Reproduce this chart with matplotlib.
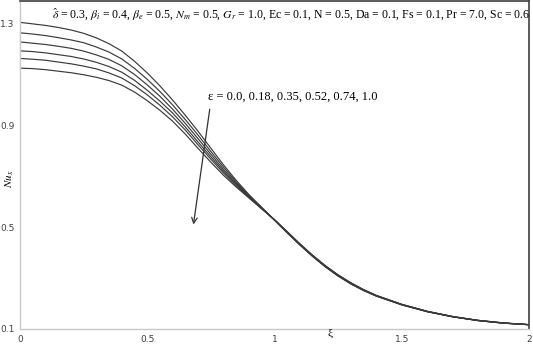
import numpy as np
import matplotlib
matplotlib.use("Agg")
import matplotlib.pyplot as plt

plt.rcParams['font.family'] = ['Liberation Serif', 'DejaVu Serif']
plt.rcParams['mathtext.fontset'] = 'stix'

# axial coordinate (finer steps where the curves bend)
xi = [0.0, 0.05, 0.1, 0.15, 0.2, 0.25, 0.3, 0.35, 0.4, 0.45, 0.5, 0.55, 0.6,
      0.65, 0.7, 0.75, 0.8, 0.85, 0.9, 0.95, 1.0, 1.05, 1.1, 1.15, 1.2, 1.25,
      1.3, 1.35, 1.4, 1.5, 1.6, 1.7, 1.8, 1.9, 2.0]

# local Nusselt number for each epsilon
nu_eps_000 = [1.306, 1.300, 1.294, 1.286, 1.276, 1.263, 1.245, 1.222, 1.193, 1.153, 1.107, 1.056, 1.000,
              0.940, 0.877, 0.811, 0.745, 0.684, 0.628, 0.578, 0.528, 0.478, 0.430, 0.385, 0.344, 0.308,
              0.277, 0.251, 0.229, 0.195, 0.168, 0.148, 0.133, 0.123, 0.117]
nu_eps_018 = [1.265, 1.260, 1.254, 1.246, 1.237, 1.226, 1.209, 1.189, 1.162, 1.125, 1.082, 1.034, 0.981,
              0.923, 0.862, 0.798, 0.736, 0.678, 0.625, 0.577, 0.528, 0.479, 0.431, 0.386, 0.345, 0.309,
              0.278, 0.252, 0.230, 0.195, 0.168, 0.148, 0.133, 0.123, 0.117]
nu_eps_035 = [1.229, 1.224, 1.219, 1.212, 1.204, 1.193, 1.178, 1.160, 1.135, 1.101, 1.060, 1.015, 0.964,
              0.908, 0.848, 0.787, 0.727, 0.673, 0.622, 0.575, 0.529, 0.480, 0.432, 0.387, 0.346, 0.310,
              0.279, 0.253, 0.231, 0.196, 0.169, 0.148, 0.133, 0.123, 0.117]
nu_eps_052 = [1.194, 1.191, 1.186, 1.179, 1.172, 1.162, 1.149, 1.132, 1.110, 1.078, 1.039, 0.996, 0.949,
              0.894, 0.835, 0.777, 0.720, 0.668, 0.620, 0.574, 0.529, 0.481, 0.433, 0.388, 0.347, 0.311,
              0.280, 0.254, 0.231, 0.196, 0.169, 0.149, 0.134, 0.123, 0.117]
nu_eps_074 = [1.164, 1.161, 1.157, 1.150, 1.143, 1.134, 1.123, 1.107, 1.087, 1.057, 1.021, 0.980, 0.934,
              0.882, 0.824, 0.768, 0.713, 0.663, 0.618, 0.573, 0.530, 0.482, 0.434, 0.389, 0.348, 0.312,
              0.281, 0.254, 0.232, 0.197, 0.169, 0.149, 0.134, 0.124, 0.117]
nu_eps_100 = [1.126, 1.124, 1.120, 1.114, 1.108, 1.100, 1.090, 1.077, 1.059, 1.032, 0.998, 0.960, 0.917,
              0.866, 0.810, 0.756, 0.704, 0.658, 0.615, 0.572, 0.530, 0.483, 0.435, 0.390, 0.349, 0.313,
              0.282, 0.255, 0.232, 0.197, 0.170, 0.149, 0.134, 0.124, 0.117]

courbes = [nu_eps_000, nu_eps_018, nu_eps_035, nu_eps_052, nu_eps_074, nu_eps_100]

xticks = [0, 0.5, 1, 1.5, 2]
xtick_labels = ['0', '0.5', '1', '1.5', '2']
yticks = [0.1, 0.5, 0.9, 1.3]
ytick_labels = ['0.1', '0.5', '0.9', '1.3']

fig = plt.figure(figsize=(5.33, 3.45), dpi=100)
ax = fig.add_axes([20 / 533, 16 / 345, 509 / 533, 328 / 345])

for nu in courbes:
    ax.plot(xi, nu, color='#3a3a3a', lw=0.85)

ax.set_xlim(0, 2)
ax.set_ylim(0.1, 1.39)

ax.set_xticks(xticks)
ax.set_xticklabels(xtick_labels, fontsize=6.5, family='DejaVu Sans', color='#404040')
ax.set_yticks(yticks)
ax.set_yticklabels(ytick_labels, fontsize=6.5, family='DejaVu Sans', color='#404040')
ax.tick_params(length=0, pad=4)

for side in ['left', 'bottom']:
    ax.spines[side].set_color('#c8c8c8')
    ax.spines[side].set_linewidth(1.0)
for side in ['top', 'right']:
    ax.spines[side].set_color('#404040')
    ax.spines[side].set_linewidth(1.2)

ax.text(0.127, 1.336,
        r'$\hat{\delta}$ = 0.3, $\beta_i$ = 0.4, $\beta_e$ = 0.5, $N_m$ = 0.5, $G_r$ = 1.0, '
        'Ec = 0.1, N = 0.5, Da = 0.1, Fs = 0.1, Pr = 7.0, Sc = 0.6',
        fontsize=8.5, va='center', ha='left')

ax.text(0.74, 1.013, 'ε = 0.0, 0.18, 0.35, 0.52, 0.74, 1.0', fontsize=9, va='center', ha='left')
ax.annotate('', xy=(0.68, 0.50), xytext=(0.747, 0.975),
            arrowprops=dict(arrowstyle='->', color='#333333', lw=0.9))

ax.text(-0.02, 0.69, r'$Nu_x$', fontsize=8, rotation=90, va='center', ha='center',
        transform=ax.get_yaxis_transform())
ax.text(1.22, 0.083, 'ξ', fontsize=8, va='center', ha='center')

fig.savefig('out.png', dpi=100)
